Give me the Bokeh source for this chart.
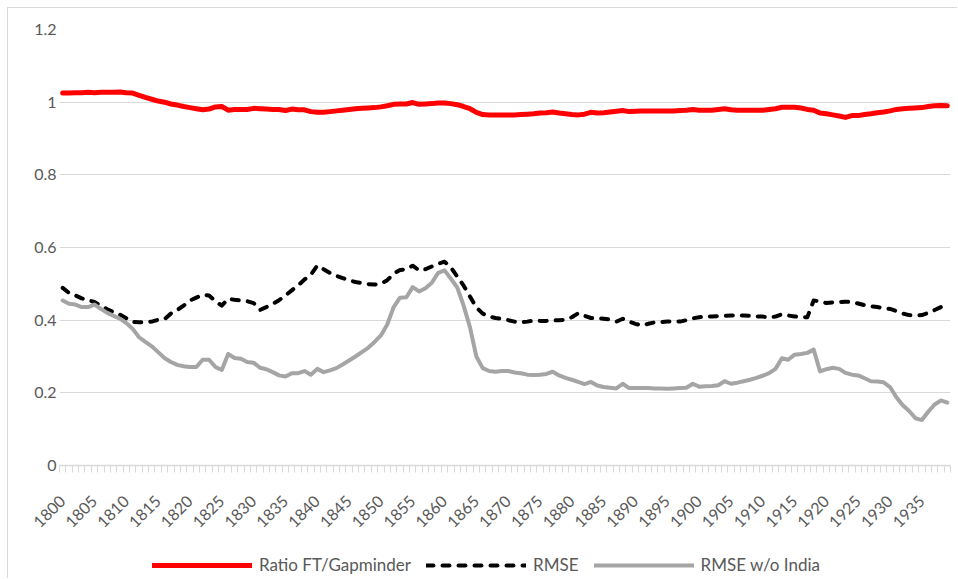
from bokeh.plotting import figure
from bokeh.layouts import column
from bokeh.models import Range1d, FixedTicker, Legend, LegendItem, ColumnDataSource
from bokeh.embed import file_html
from bokeh.resources import INLINE
import math

years = list(range(1800, 1940))

ratio_ft_gapminder = [
    1.025, 1.025, 1.026, 1.026, 1.027, 1.026, 1.027, 1.027, 1.027, 1.028,
    1.026, 1.025, 1.019, 1.013, 1.008, 1.003, 1.000, 0.995, 0.992, 0.988,
    0.985, 0.982, 0.979, 0.981, 0.987, 0.988, 0.978, 0.980, 0.980, 0.980,
    0.983, 0.982, 0.981, 0.980, 0.980, 0.977, 0.981, 0.979, 0.979, 0.974,
    0.972, 0.972, 0.974, 0.976, 0.978, 0.980, 0.982, 0.983, 0.984, 0.985,
    0.987, 0.990, 0.994, 0.995, 0.995, 0.999, 0.994, 0.995, 0.996, 0.998,
    0.998, 0.996, 0.993, 0.988, 0.982, 0.972, 0.966, 0.965, 0.965, 0.965,
    0.965, 0.965, 0.966, 0.967, 0.968, 0.970, 0.971, 0.973, 0.970, 0.968,
    0.966, 0.965, 0.967, 0.972, 0.970, 0.971, 0.973, 0.975, 0.977, 0.974,
    0.975, 0.976, 0.976, 0.976, 0.976, 0.976, 0.976, 0.977, 0.978, 0.980,
    0.978, 0.978, 0.978, 0.980, 0.982, 0.979, 0.978, 0.978, 0.978, 0.978,
    0.978, 0.980, 0.982, 0.986, 0.986, 0.986, 0.984, 0.980, 0.978, 0.970,
    0.968, 0.965, 0.962, 0.958, 0.963, 0.963, 0.966, 0.968, 0.971, 0.973,
    0.976, 0.980, 0.982, 0.983, 0.984, 0.985, 0.988, 0.990, 0.991, 0.990,
]

rmse = [
    0.489, 0.475, 0.468, 0.460, 0.455, 0.450, 0.440, 0.430, 0.422, 0.415,
    0.405, 0.395, 0.394, 0.394, 0.396, 0.401, 0.403, 0.418, 0.428, 0.440,
    0.454, 0.462, 0.470, 0.468, 0.452, 0.440, 0.459, 0.456, 0.454, 0.452,
    0.447, 0.428, 0.436, 0.445, 0.455, 0.468, 0.482, 0.496, 0.512, 0.525,
    0.550, 0.540, 0.530, 0.522, 0.516, 0.510, 0.505, 0.502, 0.499, 0.498,
    0.500, 0.510, 0.528, 0.538, 0.540, 0.550, 0.537, 0.540, 0.548, 0.555,
    0.561, 0.545, 0.520, 0.495, 0.465, 0.435, 0.418, 0.410, 0.406, 0.404,
    0.400, 0.396, 0.394, 0.396, 0.399, 0.398, 0.398, 0.399, 0.400, 0.401,
    0.408, 0.419, 0.412, 0.406, 0.405, 0.404, 0.402, 0.396, 0.404, 0.396,
    0.390, 0.385, 0.390, 0.394, 0.395, 0.396, 0.396, 0.396, 0.400, 0.405,
    0.408, 0.410, 0.410, 0.411, 0.412, 0.413, 0.413, 0.413, 0.412, 0.410,
    0.410, 0.407, 0.410, 0.416, 0.413, 0.410, 0.409, 0.408, 0.454, 0.452,
    0.447, 0.449, 0.450, 0.451, 0.450, 0.446, 0.441, 0.438, 0.436, 0.433,
    0.431, 0.425, 0.418, 0.414, 0.413, 0.414, 0.420, 0.428, 0.436, 0.435,
]

rmse_wo_india = [
    0.454, 0.445, 0.443, 0.436, 0.436, 0.443, 0.431, 0.420, 0.412, 0.404,
    0.392, 0.376, 0.353, 0.340, 0.328, 0.312, 0.296, 0.285, 0.277, 0.273,
    0.271, 0.271, 0.291, 0.291, 0.271, 0.263, 0.307, 0.296, 0.294, 0.285,
    0.283, 0.269, 0.265, 0.257, 0.248, 0.245, 0.254, 0.254, 0.260, 0.250,
    0.266, 0.257, 0.262, 0.268, 0.278, 0.289, 0.300, 0.312, 0.324, 0.340,
    0.358, 0.388, 0.436, 0.462, 0.463, 0.491, 0.479, 0.488, 0.503, 0.530,
    0.537, 0.514, 0.490, 0.440, 0.380, 0.300, 0.268, 0.260, 0.258, 0.260,
    0.260, 0.256, 0.254, 0.250, 0.249, 0.250, 0.252, 0.258, 0.248, 0.241,
    0.236, 0.230, 0.224, 0.230, 0.220, 0.216, 0.214, 0.212, 0.225, 0.213,
    0.213, 0.213, 0.213, 0.212, 0.212, 0.211, 0.212, 0.213, 0.214, 0.225,
    0.217, 0.218, 0.219, 0.221, 0.232, 0.225, 0.228, 0.232, 0.236, 0.241,
    0.247, 0.254, 0.266, 0.295, 0.291, 0.305, 0.307, 0.310, 0.319, 0.259,
    0.265, 0.269, 0.266, 0.255, 0.250, 0.248, 0.240, 0.232, 0.231, 0.229,
    0.216, 0.188, 0.166, 0.150, 0.130, 0.125, 0.148, 0.168, 0.179, 0.173,
]

x_tick_years = list(range(1800, 1940, 5))
y_ticks = [0, 0.2, 0.4, 0.6, 0.8, 1.0, 1.2]
y_tick_labels = ["0", "0.2", "0.4", "0.6", "0.8", "1", "1.2"]

series_names = ["Ratio FT/Gapminder", "RMSE", "RMSE w/o India"]
series_cols = ["ratio", "rmse", "rmse_wo"]

TEXT = "#595959"
GRID = "#d9d9d9"
FONT = "Lato"
STYLES = [dict(line_color="#ff0000", line_width=5),
          dict(line_color="#000000", line_width=4, line_dash="7 9"),
          dict(line_color="#a5a5a5", line_width=4)]

src = ColumnDataSource(dict(year=years, ratio=ratio_ft_gapminder,
                            rmse=rmse, rmse_wo=rmse_wo_india))

# ---------------- main chart ----------------
p = figure(width=950, height=541, output_backend="svg", toolbar_location=None,
           x_range=Range1d(years[0] - 0.5, years[-1] + 0.5),
           y_range=Range1d(0, 1.2),
           min_border_left=51, min_border_right=8, min_border_top=21,
           min_border_bottom=84)
p.margin = (7, 0, 0, 7)
p.styles = {"border-left": "1px solid #d9d9d9", "border-top": "1px solid #d9d9d9"}
p.outline_line_color = None
p.background_fill_color = "white"
p.border_fill_color = "white"

for col, st in zip(series_cols, STYLES):
    p.line("year", col, source=src, line_join="round", line_cap="round", **st)

xa = p.xaxis[0]
xa.ticker = FixedTicker(ticks=x_tick_years,
                        minor_ticks=[y - 0.5 for y in years] + [years[-1] + 0.5])
xa.major_tick_in = 0
xa.major_tick_out = 0
xa.minor_tick_in = 0
xa.minor_tick_out = 7
xa.minor_tick_line_color = GRID
xa.axis_line_color = GRID
xa.axis_line_width = 1.5
xa.major_label_orientation = math.pi / 4
xa.major_label_text_font = FONT
xa.major_label_text_font_size = "16px"
xa.major_label_text_color = TEXT
xa.major_label_standoff = 26

ya = p.yaxis[0]
ya.ticker = FixedTicker(ticks=y_ticks)
ya.major_label_overrides = {t: l for t, l in zip(y_ticks, y_tick_labels)}
ya.axis_line_color = None
ya.major_tick_line_color = None
ya.minor_tick_line_color = None
ya.major_tick_in = 0
ya.major_tick_out = 0
ya.minor_tick_in = 0
ya.minor_tick_out = 0
ya.major_label_text_font = FONT
ya.major_label_text_font_size = "16px"
ya.major_label_text_color = TEXT
ya.major_label_standoff = 3

p.xgrid.grid_line_color = None
p.ygrid.grid_line_color = GRID
p.ygrid.grid_line_width = 1
p.ygrid.ticker = FixedTicker(ticks=y_ticks)

# ---------------- legend strip ----------------
q = figure(width=950, height=30, output_backend="svg", toolbar_location=None,
           x_range=Range1d(0, 1), y_range=Range1d(0, 1),
           x_axis_type=None, y_axis_type=None,
           min_border_left=0, min_border_right=0, min_border_top=0,
           min_border_bottom=0)
q.margin = (0, 0, 0, 7)
q.styles = {"border-left": "1px solid #d9d9d9"}
q.outline_line_color = None
q.xgrid.visible = False
q.ygrid.visible = False

items = []
for name, col, st in zip(series_names, series_cols, STYLES):
    # same series; falls outside this strip's ranges, so only the legend glyph shows
    r = q.line("year", col, source=src, line_cap="round", **st)
    items.append(LegendItem(label=name, renderers=[r]))

legend = Legend(items=items, orientation="horizontal", location=(93, 3),
                glyph_width=100, glyph_height=20, label_standoff=7, spacing=15,
                padding=0, margin=0, border_line_alpha=0, background_fill_alpha=0,
                label_text_font=FONT, label_text_font_size="17px",
                label_text_color=TEXT)
q.add_layout(legend)

layout = column(p, q, spacing=0)
open("out.html", "w").write(file_html(layout, INLINE))
